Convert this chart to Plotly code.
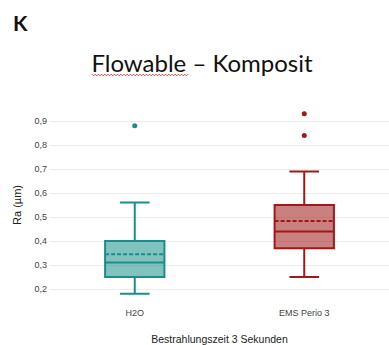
import plotly.graph_objects as go

categories = ["H2O", "EMS Perio 3"]
q1 = [0.25, 0.37]
median = [0.31, 0.44]
q3 = [0.40, 0.55]
lower = [0.18, 0.25]
upper = [0.56, 0.69]
mean = [0.345, 0.483]
outliers = [[0.88], [0.93, 0.84]]
line_colors = ["#1a8f8a", "#a01818"]
fill_colors = ["rgba(26,143,138,0.55)", "rgba(160,24,24,0.55)"]
y_ticks = [0.2, 0.3, 0.4, 0.5, 0.6, 0.7, 0.8, 0.9]

fig = go.Figure()
for i, c in enumerate(categories):
    fig.add_trace(go.Box(
        x=[c], q1=[q1[i]], median=[median[i]], q3=[q3[i]],
        lowerfence=[lower[i]], upperfence=[upper[i]], mean=[mean[i]],
        boxmean=True, boxpoints=False, whiskerwidth=0.5,
        line=dict(color=line_colors[i], width=2), fillcolor=fill_colors[i],
        showlegend=False, hoverinfo="skip"))
    fig.add_trace(go.Scatter(
        x=[c] * len(outliers[i]), y=outliers[i], mode="markers",
        marker=dict(color=line_colors[i], size=5), showlegend=False))

# plot area: x 50..389, y 109..301
L, R, T, B = 50, 389, 109, 301
def px(x):
    return (x - L) / (R - L)
def py(y):
    return (B - y) / (B - T)

# spell-check squiggle under "Flowable"
pts = []
x = 92.0
k = 0
while x <= 189:
    pts.append((px(x), py(75.0 + (0.8 if k % 2 else -0.8))))
    x += 1.6
    k += 1
path = "M " + " L ".join(f"{a:.5f},{b:.5f}" for a, b in pts)

fig.update_layout(
    width=389, height=345,
    margin=dict(l=L, r=389 - R, t=T, b=345 - B),
    paper_bgcolor="white", plot_bgcolor="white",
    separators=",.",
    boxgap=0.5,
    font=dict(family="Liberation Sans, Arial, sans-serif", color="#444"),
    title=dict(text="Flowable – Komposit", x=202 / 389, xanchor="center",
               y=1 - 64 / 345, yanchor="middle",
               font=dict(family="Lato, Carlito, sans-serif", size=24, color="#111")),
    xaxis=dict(range=[-0.5, 1.5], showgrid=False, showline=False, zeroline=False, ticks="",
               tickfont=dict(size=9, color="#444"), ticklabelstandoff=5,
               title=dict(text="Bestrahlungszeit 3 Sekunden", font=dict(size=10.5, color="#222"),
                          standoff=18)),
    yaxis=dict(range=[0.15, 0.95], tickvals=y_ticks, tickformat=".1f",
               showgrid=True, gridcolor="#ececec", gridwidth=1, zeroline=False,
               showline=False, ticks="", tickfont=dict(size=9, color="#444"),
               ticklabelstandoff=2,
               title=dict(text="Ra (µm)", font=dict(size=11, color="#222"), standoff=10)),
    annotations=[dict(text="<b>K</b>", xref="paper", yref="paper",
                      x=px(11), y=py(22), xanchor="left", yanchor="middle",
                      showarrow=False,
                      font=dict(family="Lato, Liberation Sans, sans-serif", size=21, color="#111"))],
    shapes=[dict(type="path", path=path, xref="paper", yref="paper",
                 line=dict(color="#e04040", width=1))],
)

fig.write_html("out.html", config={"displayModeBar": False},
               post_script="document.body.style.margin='0';")
